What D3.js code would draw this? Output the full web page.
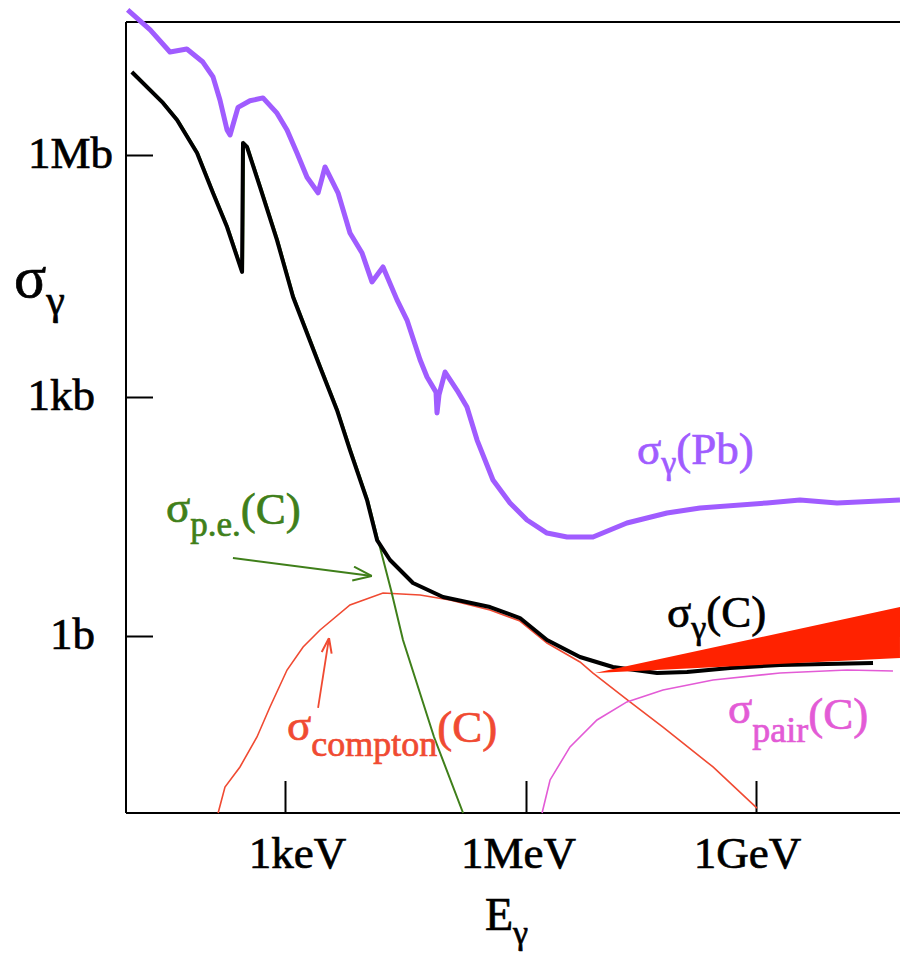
<!DOCTYPE html>
<html>
<head>
<meta charset="utf-8">
<script src="https://cdn.jsdelivr.net/npm/d3@7"></script>
<style>
  body { margin: 0; background: #fff; }
  svg { display: block; font-family: "Liberation Serif", "Times New Roman", serif; }
  text { stroke-width: 0.7px; }
</style>
</head>
<body>
<div id="chart"></div>
<script>
// ==== Data (energy in eV, cross section in barn) ====

const xTicks = [1e3, 1e6, 1e9];
const xTickLabels = ["1keV", "1MeV", "1GeV"];
const yTicks = [1, 1e3, 1e6];
const yTickLabels = ["1b", "1kb", "1Mb"];

// sigma_gamma(Pb)
const pbE = [11, 21, 37, 60, 95, 127, 155, 190, 207, 260, 366, 532, 795, 1060, 1410, 1880, 2580, 3150, 4570, 6440,
  9100, 1.21e4, 1.66e4, 2.48e4, 3.30e4, 4.80e4, 5.86e4, 7.58e4, 7.80e4, 8.26e4, 9.83e4, 1.38e5, 1.84e5, 2.46e5,
  3.88e5, 6.32e5, 1.03e6, 1.88e6, 3.43e6, 7.48e6, 2.07e7, 6.90e7, 1.86e8, 1.39e9, 3.75e9, 1.14e10, 7.55e10];
const pbS = [6.3e7, 3.55e7, 1.89e7, 2.06e7, 1.42e7, 9.3e6, 4.8e6, 2.04e6, 1.77e6, 3.9e6, 4.7e6, 5.1e6, 3.3e6, 2.04e6,
  1.06e6, 5.3e5, 3.4e5, 7.1e5, 3.4e5, 1.08e5, 6.1e4, 2.67e4, 4.1e4, 1.6e4, 9.0e3, 2.9e3, 1.77e3, 1.15e3, 630, 1.06e3,
  2.04e3, 1.22e3, 748, 288, 90.8, 46.8, 28.6, 19.6, 17.5, 17.5, 26.2, 35.0, 40.5, 46.8, 51, 46.8, 51];

// sigma_gamma(C) total
const cE = [12.4, 30.3, 45.3, 80.4, 127, 190, 292, 300, 336, 489, 795, 1260, 2730, 4430, 6440, 1.05e4, 1.40e4,
  2.03e4, 3.92e4, 9.27e4, 3.56e5, 8.41e5, 1.88e6, 5.06e6, 1.36e7, 5.12e7, 1.26e8, 4.58e8, 2.06e9, 3.36e10];
const cS = [1.07e7, 4.42e6, 2.72e6, 1.06e6, 3.38e5, 1.28e5, 3.55e4, 1.41e6, 1.26e6, 4.0e5, 8.8e4, 1.74e4, 2.36e3,
  687, 216, 50.9, 16.0, 9.0, 4.63, 3.09, 2.31, 1.68, 0.891, 0.545, 0.408, 0.343, 0.354, 0.397, 0.433, 0.458];

// photo-electric part
const peE = [12.4, 30.3, 45.3, 80.4, 127, 190, 292, 300, 336, 489, 795, 1260, 2730, 4430, 6440, 1.05e4, 1.40e4,
  2.03e4, 2.86e4, 6.96e4, 1.60e5];
const peS = [1.07e7, 4.42e6, 2.72e6, 1.06e6, 3.38e5, 1.28e5, 3.55e4, 1.41e6, 1.26e6, 4.0e5, 8.8e4, 1.74e4, 2.36e3,
  687, 216, 50.9, 16.0, 3.78, 0.891, 0.054, 0.006];

// compton part
const comptonE = [147, 179, 275, 448, 650, 1060, 1680, 2730, 6440, 1.66e4, 4.80e4, 1.13e5, 3.56e5, 8.41e5, 1.88e6,
  5.06e6, 7.48e6, 2.27e7, 6.12e7, 2.75e8, 1.03e9];
const comptonS = [0.006, 0.0127, 0.0227, 0.054, 0.1285, 0.374, 0.728, 1.19, 2.45, 3.47, 3.27, 2.83, 2.12, 1.54,
  0.817, 0.472, 0.343, 0.149, 0.072, 0.0227, 0.0069];

// pair production part
const pairE = [1.62e6, 2.06e6, 3.75e6, 8.43e6, 2.07e7, 6.12e7, 2.75e8, 2.06e9, 1.54e10, 6.12e10];
const pairS = [0.006, 0.0156, 0.0405, 0.0883, 0.149, 0.210, 0.281, 0.343, 0.374, 0.364];

// red wedge
const wedgeE = [7.94e6, 7.55e10];
const wedgeLo = [0.343, 0.53];
const wedgeHi = [0.343, 2.31];

// arrows [from, to] as [E, sigma]
const peArrow = [[225, 9.5], [1.21e4, 5.66]];
const comptonArrow = [[2580, 0.125], [3530, 0.944]];

// ==== Setup ====

const margin = { top: 22, right: 0, bottom: 141, left: 126 };
const width = 900 - margin.left - margin.right;
const height = 954 - margin.top - margin.bottom;

const svg = d3.select("#chart")
  .append("svg")
  .attr("width", 900)
  .attr("height", 954);

const g = svg.append("g")
  .attr("transform", `translate(${margin.left},${margin.top})`);

// log scales (hand drawn original: decades are not quite even)
const xScale = d3.scaleLog().domain(xTicks).range([159, 400, 630]);
const yScale = d3.scaleLog().domain(yTicks).range([614, 375, 133]);

const zip = (a, b) => a.map((v, i) => [v, b[i]]);
const line = d3.line().x(d => xScale(d[0])).y(d => yScale(d[1]));

const purple = "#a05cff", green = "#3f7f1a", red = "#f04a32", pink = "#e35bd6";

// ==== Frame & axes ====

g.append("line").attr("x1", 0).attr("x2", width).attr("y1", 0).attr("y2", 0)
  .attr("stroke", "#000").attr("stroke-width", 2);
g.append("line").attr("x1", 0).attr("x2", 0).attr("y1", 0).attr("y2", height)
  .attr("stroke", "#000").attr("stroke-width", 2);
g.append("line").attr("x1", 0).attr("x2", width).attr("y1", height).attr("y2", height)
  .attr("stroke", "#000").attr("stroke-width", 2);

const xAxis = d3.axisBottom(xScale)
  .tickValues(xTicks)
  .tickSize(-32)
  .tickFormat((d, i) => xTickLabels[i]);

const yAxis = d3.axisLeft(yScale)
  .tickValues(yTicks)
  .tickSize(-27)
  .tickFormat((d, i) => yTickLabels[i]);

const gx = g.append("g").attr("transform", `translate(0,${height})`).call(xAxis);
const gy = g.append("g").call(yAxis);
[gx, gy].forEach(a => {
  a.select(".domain").remove();
  a.selectAll("line").attr("stroke", "#000").attr("stroke-width", 2);
  a.selectAll("text").attr("fill", "#000").attr("stroke", "#000").style("font-size", "45px")
    .style("font-family", "'Liberation Serif', 'Times New Roman', serif");
});
const xLabelShift = [12, -8, -9];
gx.selectAll("text").attr("y", 55).attr("dy", 0).attr("x", (d, i) => xLabelShift[i]);
const yLabelRight = [-31, -31, -13];
gy.selectAll("text").attr("x", (d, i) => yLabelRight[i]).attr("dy", 0).attr("y", 12);

// ==== Curves ====

g.append("path").datum(zip(comptonE, comptonS)).attr("d", line)
  .attr("fill", "none").attr("stroke", red).attr("stroke-width", 1.6);

g.append("path").datum(zip(pairE, pairS)).attr("d", line)
  .attr("fill", "none").attr("stroke", pink).attr("stroke-width", 1.6);

g.append("path").datum(zip(peE, peS)).attr("d", line)
  .attr("fill", "none").attr("stroke", green).attr("stroke-width", 2)
  .attr("transform", "translate(1,0)");

g.append("path").datum(zip(cE, cS)).attr("d", line)
  .attr("fill", "none").attr("stroke", "#000").attr("stroke-width", 4)
  .attr("stroke-linejoin", "round");

g.append("path").datum(zip(pbE, pbS)).attr("d", line)
  .attr("fill", "none").attr("stroke", purple).attr("stroke-width", 5)
  .attr("stroke-linejoin", "round");

const wedge = d3.area()
  .x(d => xScale(d[0]))
  .y0(d => yScale(d[1]))
  .y1(d => yScale(d[2]));
g.append("path")
  .datum(wedgeE.map((e, i) => [e, wedgeLo[i], wedgeHi[i]]))
  .attr("d", wedge)
  .attr("fill", "#ff2200");

// ==== Arrows ====

const defs = svg.append("defs");
function marker(id, color, len, half) {
  defs.append("marker")
    .attr("id", id)
    .attr("markerUnits", "userSpaceOnUse")
    .attr("viewBox", `0 0 ${len} ${half * 2}`)
    .attr("refX", len).attr("refY", half)
    .attr("markerWidth", len).attr("markerHeight", half * 2)
    .attr("orient", "auto")
    .append("path")
    .attr("d", `M1,1 L${len},${half} L1,${half * 2 - 1}`)
    .attr("fill", "none").attr("stroke", color).attr("stroke-width", 2);
}
marker("arrG", green, 20, 8);
marker("arrR", red, 16, 6);

g.append("path").datum(peArrow).attr("d", line)
  .attr("stroke", green).attr("stroke-width", 2).attr("marker-end", "url(#arrG)");
g.append("path").datum(comptonArrow).attr("d", line)
  .attr("stroke", red).attr("stroke-width", 1.8).attr("marker-end", "url(#arrR)");

// ==== Labels ====

function label(x, y, color, parts, size) {
  const t = svg.append("text").attr("x", x).attr("y", y)
    .attr("fill", color).attr("stroke", color)
    .style("font-size", (size || 45) + "px");
  let shift = 0;
  parts.forEach(p => {
    const off = p.sub || 0;
    const ts = t.append("tspan").text(p.t).attr("dy", off - shift);
    if (p.size) ts.style("font-size", p.size + "px");
    shift = off;
  });
}

label(637, 464, purple, [{ t: "σ" }, { t: "γ", sub: 10, size: 34 }, { t: "(Pb)" }]);
label(667, 627, "#000", [{ t: "σ" }, { t: "γ", sub: 12, size: 34 }, { t: "(C)" }]);
label(166, 522, green, [{ t: "σ" }, { t: "p.e.", sub: 14, size: 35 }, { t: "(C)", sub: 2 }]);
label(287, 740, red, [{ t: "σ" }, { t: "compton", sub: 16, size: 36 }, { t: "(C)", sub: 2 }]);
label(728, 723, pink, [{ t: "σ" }, { t: "pair", sub: 19, size: 36 }, { t: "(C)", sub: 6 }]);

// axis titles
label(14, 297, "#000", [{ t: "σ" }, { t: "γ", sub: 17, size: 42 }], 60);
label(485, 930, "#000", [{ t: "E" }, { t: "γ", sub: 14, size: 34 }], 46);
</script>
</body>
</html>
